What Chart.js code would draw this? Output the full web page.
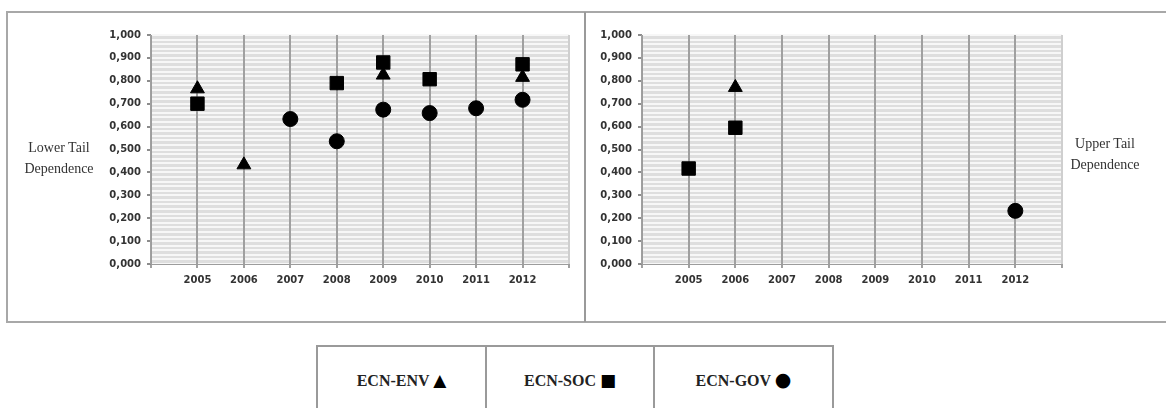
<!DOCTYPE html>
<html>
<head>
<meta charset="utf-8">
<script src="https://cdn.jsdelivr.net/npm/chart.js@4"></script>
<style>
  html, body { margin: 0; padding: 0; background: #fff; width: 1166px; height: 408px; overflow: hidden; }
  .frame { position: absolute; left: 6px; top: 11px; width: 1180px; height: 308px; border: 2px solid #a8a8a8; }
  .divider { position: absolute; left: 584px; top: 12px; width: 2px; height: 310px; background: #9a9a9a; }
  canvas { position: absolute; }
  .axisTitle { position: absolute; font-family: "Liberation Serif", "DejaVu Serif", serif; font-size: 14px; line-height: 21px; color: #333; text-align: center; }
  .legend { position: absolute; left: 316px; top: 345px; border-collapse: collapse; }
  .legend td { border: 2px solid #9a9a9a; height: 70px; vertical-align: top; padding: 25px 0 0 0; box-sizing: border-box;
    font-family: "Liberation Serif", serif; font-weight: bold; font-size: 16px; line-height: 18px; color: #222; text-align: center; }
  .legend .sym { font-family: "DejaVu Sans", sans-serif; font-weight: normal; color: #000; line-height: 0; }
</style>
</head>
<body>
<div class="frame"></div>
<div class="divider"></div>
<canvas id="lowerChart" width="577" height="309" style="left:8px; top:13px;"></canvas>
<canvas id="upperChart" width="579" height="309" style="left:587px; top:13px;"></canvas>
<div class="axisTitle" style="left:14px; top:137px; width:90px;">Lower Tail<br>Dependence</div>
<div class="axisTitle" style="left:1060px; top:133px; width:90px;">Upper Tail<br>Dependence</div>
<table class="legend">
  <tr>
    <td style="width:169px;">ECN-ENV <span class="sym" style="font-size:17px;">▲</span></td>
    <td style="width:168px;">ECN-SOC <span class="sym" style="font-size:17px;">■</span></td>
    <td style="width:179px;">ECN-GOV <span class="sym" style="font-size:19px;">●</span></td>
  </tr>
</table>
<script>
// years on the category axis
const years = [2005, 2006, 2007, 2008, 2009, 2010, 2011, 2012];

// Lower tail dependence
const lowerEnv = [0.765, 0.433, null, null, 0.825, null, null, 0.815];
const lowerSoc = [0.700, null, null, 0.790, 0.880, 0.807, null, 0.872];
const lowerGov = [null, null, 0.633, 0.536, 0.674, 0.659, 0.680, 0.717];

// Upper tail dependence
const upperEnv = [null, 0.771, null, null, null, null, null, null];
const upperSoc = [0.417, 0.595, null, null, null, null, null, null];
const upperGov = [null, null, null, null, null, null, null, 0.232];

function toPoints(values) {
    return years.map((yr, i) => ({ x: yr, y: values[i] })).filter(p => p.y !== null);
}

function series(label, values, style, radius) {
    return {
        label: label,
        data: toPoints(values),
        pointStyle: style,
        pointRadius: radius,
        pointBackgroundColor: '#000',
        pointBorderColor: '#000',
        pointBorderWidth: 1,
        showLine: false
    };
}

// grey plot background behind the grid
const plotBackground = {
    id: 'plotBackground',
    beforeDraw(chart) {
        const a = chart.chartArea;
        const ctx = chart.ctx;
        ctx.save();
        ctx.fillStyle = '#dedede';
        ctx.fillRect(a.left, a.top, a.right - a.left, a.bottom - a.top);
        ctx.restore();
    }
};

function isMajor(v) {
    return Math.round(v * 50) % 5 === 0;
}

function makeChart(id, env, soc, gov, yWidth, padRight) {
    const tickFont = { family: 'DejaVu Sans', size: 10, weight: 'bold' };
    return new Chart(document.getElementById(id), {
        type: 'scatter',
        data: {
            datasets: [
                series('ECN-ENV', env, 'triangle', 8),
                series('ECN-SOC', soc, 'rect', 9.5),
                series('ECN-GOV', gov, 'circle', 7.5)
            ]
        },
        options: {
            responsive: false,
            animation: false,
            devicePixelRatio: 1,
            layout: { padding: { top: 22, right: padRight, left: 0, bottom: 0 } },
            plugins: { legend: { display: false }, tooltip: { enabled: false } },
            scales: {
                x: {
                    type: 'linear',
                    min: 2004,
                    max: 2013,
                    afterFit: (s) => { s.height = 58; },
                    ticks: {
                        stepSize: 1,
                        autoSkip: false,
                        maxRotation: 0,
                        padding: 6,
                        color: '#333',
                        font: tickFont,
                        callback: (v) => (v > 2004 && v < 2013) ? String(v) : ''
                    },
                    grid: {
                        z: -1,
                        color: (c) => c.tick && c.tick.value === 2013 ? '#cfcfcf' : '#a0a0a0',
                        lineWidth: 2,
                        tickLength: 4,
                        tickColor: '#a0a0a0'
                    },
                    border: { color: '#9c9c9c', width: 1 }
                },
                y: {
                    min: 0,
                    max: 1,
                    afterFit: (s) => { s.width = yWidth; },
                    ticks: {
                        stepSize: 0.02,
                        maxTicksLimit: 100,
                        autoSkip: false,
                        padding: 6,
                        color: '#333',
                        font: tickFont,
                        callback: (v) => isMajor(v) ? v.toFixed(3).replace('.', ',') : ''
                    },
                    grid: {
                        z: -2,
                        color: '#f7f7f7',
                        lineWidth: 2,
                        tickLength: 4,
                        tickColor: (c) => c.tick && isMajor(c.tick.value) ? '#8c8c8c' : 'rgba(0,0,0,0)'
                    },
                    border: { color: '#9c9c9c', width: 1 }
                }
            }
        },
        plugins: [plotBackground]
    });
}

makeChart('lowerChart', lowerEnv, lowerSoc, lowerGov, 143, 16);
makeChart('upperChart', upperEnv, upperSoc, upperGov, 55, 104);
</script>
</body>
</html>
